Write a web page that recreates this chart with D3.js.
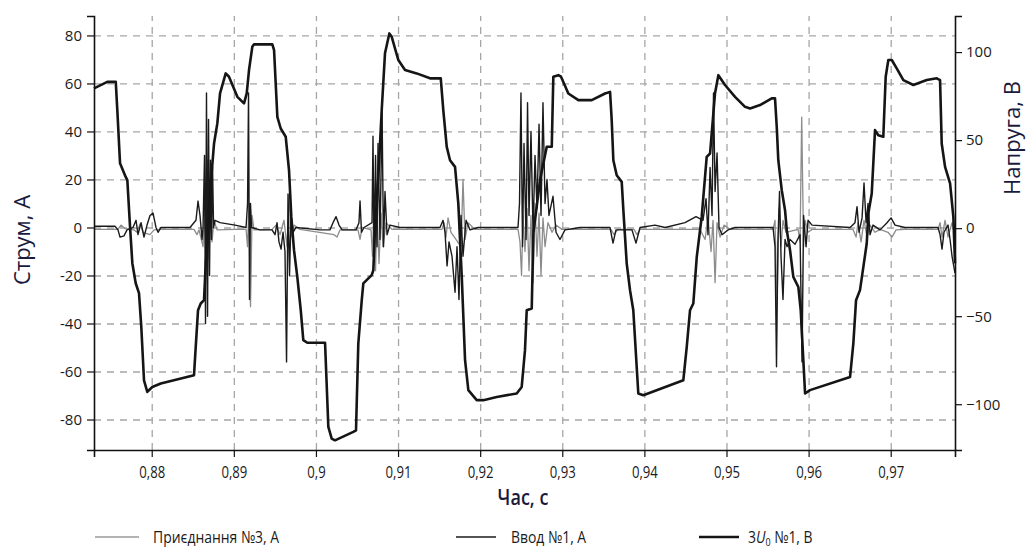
<!DOCTYPE html>
<html>
<head>
<meta charset="utf-8">
<script src="https://cdn.jsdelivr.net/npm/d3@7"></script>
<style>
  body { margin: 0; background: #fff; }
  text { font-family: "Open Sans", "DejaVu Sans", sans-serif; }
</style>
</head>
<body>
<script>
// time axis ticks, s
var xTicks = [0.88, 0.89, 0.9, 0.91, 0.92, 0.93, 0.94, 0.95, 0.96, 0.97];
var iTicks = [-80, -60, -40, -20, 0, 20, 40, 60, 80];
var uTicks = [-100, -50, 0, 50, 100];

var legendNames = ['Приєднання №3, А', 'Ввод №1, А', '3U0 №1, В'];

// 3U0 №1, V  [t, value]
var voltage3U0 = [
  [0.87297, 79.4], [0.87459, 83.1], [0.87562, 83.1], [0.87581, 67.0], [0.87614, 36.9],
  [0.87683, 29.1], [0.87703, 27.3], [0.87736, 0.7], [0.87764, -19.9], [0.87805, -31.3],
  [0.87845, -36.9], [0.87873, -56.1], [0.87906, -86.4], [0.87946, -93.0], [0.88007, -90.2],
  [0.88110, -88.2], [0.88515, -83.5], [0.88536, -67.4], [0.88564, -46.6], [0.88597, -42.8],
  [0.88637, -40.9], [0.88658, -19.9], [0.88698, 10.2], [0.88726, 29.1], [0.88759, 48.1],
  [0.88799, 59.5], [0.88832, 76.5], [0.88901, 87.9], [0.88941, 86.0], [0.89043, 74.6],
  [0.89124, 70.9], [0.89157, 76.5], [0.89185, 89.8], [0.89225, 103.0], [0.89246, 104.4],
  [0.89469, 104.4], [0.89490, 101.1], [0.89530, 63.2], [0.89571, 56.6], [0.89632, 51.9],
  [0.89672, 33.0], [0.89700, 6.4], [0.89733, -12.5], [0.89773, -27.7], [0.89815, -46.6],
  [0.89846, -63.6], [0.89895, -65.1], [0.90111, -65.1], [0.90151, -112.9], [0.90192, -119.5],
  [0.90232, -120.5], [0.90455, -115.7], [0.90488, -114.8], [0.90516, -65.5], [0.90558, -40.9],
  [0.90577, -31.4], [0.90679, -26.7], [0.90699, -23.9], [0.90720, 0.7], [0.90760, 29.1],
  [0.90801, 67.0], [0.90841, 99.3], [0.90894, 110.6], [0.90923, 108.7], [0.91003, 95.5],
  [0.91085, 89.8], [0.91227, 87.9], [0.91389, 85.1], [0.91520, 85.1], [0.91551, 67.0],
  [0.91593, 46.2], [0.91633, 38.6], [0.91694, 34.8], [0.91734, 14.0], [0.91776, -27.7],
  [0.91816, -75.0], [0.91856, -92.0], [0.91958, -97.7], [0.92039, -97.7], [0.92202, -95.9],
  [0.92445, -93.9], [0.92506, -90.2], [0.92546, -69.3], [0.92567, -46.6], [0.92628, -45.6],
  [0.92648, -2.8], [0.92729, 27.3], [0.92811, 46.2], [0.92872, 46.2], [0.92891, 86.0],
  [0.92952, 86.9], [0.92985, 86.0], [0.93074, 76.5], [0.93196, 72.7], [0.93359, 72.7],
  [0.93521, 76.5], [0.93582, 77.4], [0.93602, 61.4], [0.93622, 38.6], [0.93663, 30.1],
  [0.93724, 26.3], [0.93744, 10.2], [0.93785, -20.1], [0.93825, -35.2], [0.93865, -46.6],
  [0.93926, -93.9], [0.93987, -94.9], [0.94474, -86.4], [0.94516, -67.4], [0.94556, -46.6],
  [0.94596, -42.8], [0.94638, -16.3], [0.94698, 6.4], [0.94759, 40.5], [0.94800, 42.4],
  [0.94860, 76.5], [0.94901, 86.9], [0.94982, 81.3], [0.95104, 74.6], [0.95226, 68.9],
  [0.95287, 68.0], [0.95409, 69.9], [0.95551, 73.7], [0.95591, 73.7], [0.95612, 57.6],
  [0.95631, 38.6], [0.95673, 21.6], [0.95713, 10.2], [0.95734, -1.1], [0.95774, -12.5],
  [0.95814, -27.7], [0.95875, -33.4], [0.95904, -46.6], [0.95936, -75.0], [0.95957, -93.9],
  [0.96017, -92.0], [0.96505, -84.5], [0.96545, -65.5], [0.96578, -40.9], [0.96626, -35.2],
  [0.96667, -22.0], [0.96708, -8.7], [0.96728, 8.4], [0.96769, 19.7], [0.96809, 55.7],
  [0.96849, 52.8], [0.96910, 51.9], [0.96939, 86.0], [0.96971, 95.5], [0.97013, 95.5],
  [0.97073, 90.7], [0.97154, 84.1], [0.97276, 81.3], [0.97439, 84.1], [0.97561, 85.1],
  [0.97601, 84.1], [0.97621, 48.1], [0.97662, 34.8], [0.97723, 25.4], [0.97763, 6.4],
  [0.97783, -20.0]
];

// Ввод №1, A
var currentVvod1 = [
  [0.87297, 0.5], [0.87553, 0.5], [0.87589, -1], [0.87614, -4], [0.87662, -3.5], [0.87699, -1],
  [0.87772, 0], [0.87809, 3], [0.87833, -3], [0.87870, 2], [0.87906, -4], [0.87943, 1],
  [0.87979, 5], [0.88016, 6], [0.88052, 0], [0.88077, -2], [0.88113, 0], [0.88466, 0],
  [0.88539, 3], [0.88564, 11], [0.88588, 5], [0.88613, -5], [0.88625, 0], [0.88643, 30],
  [0.88655, -40], [0.88667, 56], [0.88680, -37], [0.88692, 45], [0.88704, -20], [0.88716, 28],
  [0.88728, -5], [0.88741, 25], [0.88753, 0], [0.88771, 3], [0.88832, 2], [0.89015, 1],
  [0.89149, 0], [0.89167, 10], [0.89179, 56], [0.89191, -30], [0.89203, 10], [0.89216, 0],
  [0.89319, -1], [0.89465, -1], [0.89502, -3], [0.89526, 2], [0.89550, -6], [0.89575, -9],
  [0.89599, -2], [0.89623, -10], [0.89642, -56], [0.89660, 14], [0.89678, -20], [0.89697, 5],
  [0.89721, -2], [0.89757, 0], [0.90050, -1], [0.90171, -1], [0.90208, 2], [0.90245, 4.5],
  [0.90281, 1], [0.90318, -1], [0.90488, -1], [0.90524, 2], [0.90537, 11], [0.90555, -2],
  [0.90585, 0], [0.90683, 2], [0.90695, 38], [0.90707, -10], [0.90726, 30], [0.90744, -8],
  [0.90756, 35], [0.90780, -5], [0.90805, 49], [0.90823, -8], [0.90841, 15], [0.90866, -3],
  [0.90902, 1], [0.91024, 0], [0.91511, 0], [0.91548, 3], [0.91572, -2], [0.91597, -16],
  [0.91621, -6], [0.91657, -12], [0.91694, -27], [0.91718, -8], [0.91742, -30], [0.91767, 5],
  [0.91791, -12], [0.91828, 3], [0.91876, -1], [0.91974, 0], [0.92461, 0], [0.92479, 10],
  [0.92497, 56], [0.92516, -8], [0.92534, 35], [0.92559, -5], [0.92577, 52], [0.92595, 5],
  [0.92619, 40], [0.92644, -2], [0.92668, 30], [0.92692, 8], [0.92717, 43], [0.92741, 5],
  [0.92765, 52], [0.92790, 10], [0.92814, 20], [0.92838, 5], [0.92887, 13], [0.92924, -2],
  [0.92972, -5], [0.93033, -1], [0.93215, 0], [0.93581, 0], [0.93618, -6.5], [0.93654, -1],
  [0.93849, -1], [0.93898, -6.5], [0.93947, 0], [0.94130, 1], [0.94252, 0], [0.94495, 2],
  [0.94629, 4.5], [0.94714, 3], [0.94751, 12], [0.94775, -3], [0.94800, 25], [0.94824, 5],
  [0.94842, 56], [0.94861, 15], [0.94885, 31], [0.94909, 0], [0.94946, -3], [0.95019, -1],
  [0.95104, 0], [0.95567, 0], [0.95591, -8], [0.95609, -58], [0.95627, -5], [0.95646, 15],
  [0.95664, -12], [0.95688, -30], [0.95713, -5], [0.95737, -8], [0.95774, -5], [0.95835, -7],
  [0.95896, -3], [0.95920, -56], [0.95939, 5], [0.95969, -8], [0.95993, 3], [0.96042, 1],
  [0.96505, 0], [0.96565, 2], [0.96590, 8.7], [0.96614, -2], [0.96651, 4], [0.96675, 18.5],
  [0.96700, 2], [0.96724, 10], [0.96748, -3], [0.96785, 1], [0.96870, -1], [0.96955, 2],
  [0.97004, 4], [0.97053, 1], [0.97174, 0], [0.97576, 0], [0.97601, -3], [0.97625, -9],
  [0.97649, -2], [0.97698, 1], [0.97723, -5], [0.97747, -12], [0.97783, -19]
];

// Приєднання №3, A
var currentPryed3 = [
  [0.87297, -0.8], [0.87589, -0.8], [0.87626, 1], [0.87675, -0.5], [0.87784, -1], [0.87821, -2],
  [0.87857, 1.5], [0.87894, -2], [0.87979, -3], [0.88028, -1], [0.88101, -0.8], [0.88515, -0.8],
  [0.88551, -3], [0.88576, -1], [0.88625, -8], [0.88649, 10], [0.88661, -12], [0.88680, 28],
  [0.88698, -13], [0.88716, 15], [0.88734, -6], [0.88759, 3], [0.88795, -1], [0.89015, -0.8],
  [0.89149, -0.8], [0.89167, -8], [0.89185, 10], [0.89203, -33], [0.89222, 5], [0.89246, -1],
  [0.89465, -0.8], [0.89514, 1], [0.89563, -3], [0.89611, 3], [0.89648, -8], [0.89672, 13],
  [0.89697, -4], [0.89733, 1], [0.89806, -0.8], [0.90220, -3], [0.90257, -4], [0.90293, -1],
  [0.90512, -1], [0.90537, -5], [0.90561, 0], [0.90671, -1], [0.90689, -12], [0.90707, 12],
  [0.90726, -18], [0.90744, 8], [0.90768, -15], [0.90793, 6], [0.90817, -8], [0.90854, 2],
  [0.90926, -0.8], [0.91535, -0.8], [0.91560, 2], [0.91584, -4], [0.91609, 4], [0.91645, -2],
  [0.91767, -8], [0.91791, 20], [0.91816, -5], [0.91852, 2], [0.91937, -0.8], [0.92461, -0.8],
  [0.92485, -6], [0.92504, -20], [0.92522, 5], [0.92546, -10], [0.92571, 8], [0.92595, -18],
  [0.92619, 5], [0.92644, -23], [0.92668, 10], [0.92692, -12], [0.92717, 6], [0.92741, -20],
  [0.92765, 4], [0.92790, -8], [0.92826, 2], [0.92875, -2], [0.92924, 1], [0.92996, -0.8],
  [0.93593, -0.8], [0.93630, -3], [0.93679, -0.8], [0.93874, -0.8], [0.93910, -3], [0.93947, -0.8],
  [0.94677, -0.8], [0.94739, -5], [0.94775, 4], [0.94812, -10], [0.94836, 3], [0.94861, -23],
  [0.94885, 2], [0.94922, -4], [0.94970, 1], [0.95043, -0.8], [0.95567, -0.8], [0.95591, 3],
  [0.95615, -32], [0.95640, 8], [0.95664, -8], [0.95688, 3], [0.95725, -2], [0.95872, -0.8],
  [0.95896, -6], [0.95916, 46], [0.95939, -8], [0.95957, 3], [0.95993, -2], [0.96042, -0.8],
  [0.96541, -0.8], [0.96578, -4], [0.96602, 2], [0.96639, -6], [0.96675, 3], [0.96712, -4],
  [0.96748, 1], [0.96809, -2], [0.96870, -0.8], [0.96967, -2], [0.97016, -4], [0.97065, -1],
  [0.97174, -0.8], [0.97576, -0.8], [0.97601, 2], [0.97625, -4], [0.97662, 3], [0.97698, -4],
  [0.97747, 2], [0.97783, -3]
];

var W = 1032, H = 555;
var L = 94, R = 955, T = 16, B = 450;
var INK = '#111';
var TITLE = '#1a1a3c';
var NARROW = 'scale(0.82,1)';

var comma = function (v) { return String(v).replace('.', ','); };

var svg = d3.select('body').append('svg').attr('width', W).attr('height', H);

var x = d3.scaleLinear().domain([0.87297, 0.97783]).range([L, R]);
var yI = d3.scaleLinear().domain([-92.7, 88.1]).range([B, T]);
var yU = d3.scaleLinear().domain([-126, 120.5]).range([B, T]);

// grid, drawn with axes stretched across the plot
var gridStyle = function (g) {
    g.select('.domain').remove();
    g.selectAll('.tick text').remove();
    g.selectAll('.tick line')
        .attr('stroke', '#a6a6a6').attr('stroke-width', 1.3).attr('stroke-dasharray', '7,6');
};
svg.append('g').attr('transform', 'translate(' + L + ',0)')
    .call(d3.axisLeft(yI).tickValues(iTicks).tickSize(-(R - L)).tickFormat(''))
    .call(gridStyle);
svg.append('g').attr('transform', 'translate(0,' + B + ')')
    .call(d3.axisBottom(x).tickValues(xTicks).tickSize(-(B - T)).tickFormat(''))
    .call(gridStyle);

// series
var lineI = d3.line().x(function (d) { return x(d[0]); }).y(function (d) { return yI(d[1]); });
var lineU = d3.line().x(function (d) { return x(d[0]); }).y(function (d) { return yU(d[1]); });

svg.append('path').datum(currentPryed3).attr('d', lineI)
    .attr('fill', 'none').attr('stroke', '#8c8c8c').attr('stroke-width', 1.3).attr('stroke-linejoin', 'round');
svg.append('path').datum(currentVvod1).attr('d', lineI)
    .attr('fill', 'none').attr('stroke', '#1a1a1a').attr('stroke-width', 1.4).attr('stroke-linejoin', 'round');
svg.append('path').datum(voltage3U0).attr('d', lineU)
    .attr('fill', 'none').attr('stroke', '#151515').attr('stroke-width', 2.6).attr('stroke-linejoin', 'round');

// axes
var styleAxis = function (g) {
    g.select('.domain').attr('stroke', INK).attr('stroke-width', 1.6);
    g.selectAll('.tick line').attr('stroke', INK).attr('stroke-width', 1.2);
    g.selectAll('.tick text').attr('fill', '#1a1a1a').style('font-size', '15px');
};

var ax = svg.append('g').attr('transform', 'translate(0,' + B + ')')
    .call(d3.axisBottom(x).tickValues(xTicks).tickSizeOuter(0).tickSize(7).tickPadding(10).tickFormat(comma))
    .call(styleAxis);
ax.selectAll('.tick text').attr('transform', NARROW).style('font-size', '16px');

svg.append('g').attr('transform', 'translate(' + L + ',0)')
    .call(d3.axisLeft(yI).tickValues(iTicks).tickSizeOuter(0).tickSize(7).tickPadding(5).tickFormat(function (d) { return String(d); }))
    .call(styleAxis);

svg.append('g').attr('transform', 'translate(' + R + ',0)')
    .call(d3.axisRight(yU).tickValues(uTicks).tickSizeOuter(0).tickSize(7).tickPadding(4).tickFormat(function (d) { return d < 0 ? '\u2212' + (-d) : String(d); }))
    .call(styleAxis);

// titles
svg.append('text')
    .attr('transform', 'translate(523,505) ' + NARROW).attr('text-anchor', 'middle')
    .attr('fill', TITLE).style('font-size', '22px').style('font-weight', 600)
    .text('Час, с');
svg.append('text')
    .attr('transform', 'translate(30,240) rotate(-90)').attr('text-anchor', 'middle')
    .attr('fill', TITLE).style('font-size', '22px')
    .text('Струм, А');
svg.append('text')
    .attr('transform', 'translate(1020,138) rotate(-90)').attr('text-anchor', 'middle')
    .attr('fill', TITLE).style('font-size', '22px')
    .text('Напруга, В');

// legend
var legend = [
    { x: 95, w: 44, tx: 153, color: '#9a9a9a', sw: 1.3 },
    { x: 456, w: 40, tx: 511, color: '#1a1a1a', sw: 1.4 },
    { x: 699, w: 40, tx: 748, color: '#151515', sw: 2.4 }
];
var lg = svg.append('g').selectAll('g').data(legend).enter().append('g');
lg.append('line')
    .attr('x1', function (d) { return d.x; })
    .attr('x2', function (d) { return d.x + d.w; })
    .attr('y1', 537).attr('y2', 537)
    .attr('stroke', function (d) { return d.color; })
    .attr('stroke-width', function (d) { return d.sw; });
lg.append('text')
    .attr('transform', function (d) { return 'translate(' + d.tx + ',543) ' + NARROW; })
    .attr('fill', '#1a1a1a').style('font-size', '17px')
    .each(function (d, i) {
        var t = d3.select(this);
        if (i < 2) { t.text(legendNames[i]); return; }
        t.append('tspan').text('3');
        t.append('tspan').style('font-style', 'italic').text('U');
        t.append('tspan').attr('dy', 3).style('font-size', '11px').text('0');
        t.append('tspan').attr('dy', -3).text(' №1, В');
    });
</script>
</body>
</html>
